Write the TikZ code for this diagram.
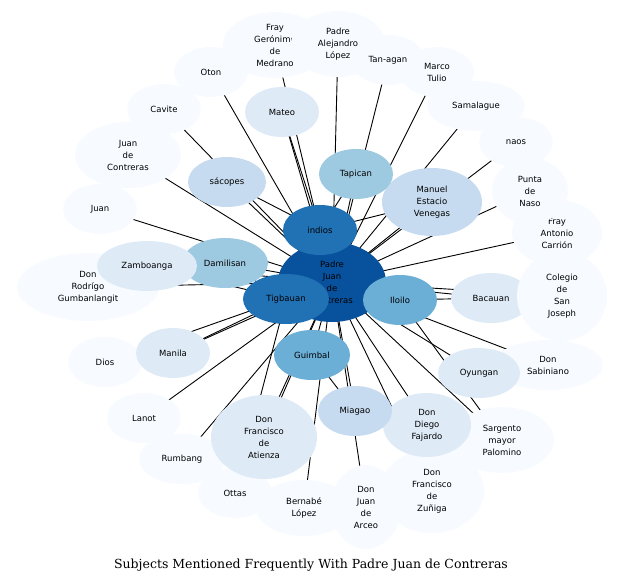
\documentclass[tikz,border=0pt]{standalone}
\usepackage{fontspec}
\setmainfont{DejaVu Sans}
\newfontfamily\titlefont{DejaVu Serif}
\usetikzlibrary{shapes.geometric}
\pgfdeclarelayer{bg}
\pgfsetlayers{bg,main}
\definecolor{c0}{HTML}{F7FBFF}
\definecolor{c1}{HTML}{DEEBF7}
\definecolor{c2}{HTML}{C6DBEF}
\definecolor{c3}{HTML}{9ECAE1}
\definecolor{c4}{HTML}{6BAED6}
\definecolor{c5}{HTML}{2171B5}
\definecolor{c6}{HTML}{08519C}
\tikzset{bub/.style={ellipse,inner sep=0pt,align=center,font=\fontsize{8.5}{12}\selectfont,text=black},
 edge/.style={draw=black,line width=0.9pt}}
\newcommand\bb[6]{\node[bub,fill=#4,minimum width=#3*2pt,minimum height=#5*2pt] (#6) at (#1,#2) {};\node[font=\fontsize{8.5}{12}\selectfont,align=center] at (#1,#2) {\strut};}
\begin{document}
\begin{tikzpicture}[x=1pt,y=-1pt]
\useasboundingbox (0,0) rectangle (624,586);
\def\N#1#2#3#4#5#6#7{\node[bub,fill=#6,minimum width=#3*2pt,minimum height=#4*2pt] (#5) at (#1,#2) {#7};}
% light outer
\N{211}{72}{37}{25}{oton}{c0}{Oton}
\N{275}{45}{52}{33}{fray}{c0}{Fray\\Gerónimo\\de\\Medrano}
\N{338}{44}{47}{33}{alej}{c0}{Padre\\Alejandro\\López}
\N{437}{72}{37}{25}{marco}{c0}{Marco\\Tulio}
\N{388}{60}{37}{25}{tan}{c0}{Tan-agan}
\N{476}{106}{49}{25}{sam}{c0}{Samalague}
\N{516}{142}{37}{25}{naos}{c0}{naos}
\N{557}{233}{45}{33}{carr}{c0}{Fray\\Antonio\\Carrión}
\N{530}{191}{38}{33}{punta}{c0}{Punta\\de\\Naso}
\N{491}{298}{40}{25}{baca}{c1}{Bacauan}
\N{562}{296}{45}{45}{cole}{c0}{Colegio\\de\\San\\Joseph}
\N{548}{365}{55}{25}{sabi}{c0}{Don\\Sabiniano}
\N{502}{440}{52}{33}{sarg}{c0}{Sargento\\mayor\\Palomino}
\N{366}{507}{35}{42}{arceo}{c0}{Don\\Juan\\de\\Arceo}
\N{432}{491}{52}{42}{zuni}{c0}{Don\\Francisco\\de\\Zuñiga}
\N{304}{508}{48}{28}{bern}{c0}{Bernabé\\López}
\N{235}{493}{37}{25}{ottas}{c0}{Ottas}
\N{182}{459}{43}{25}{rumb}{c0}{Rumbang}
\N{144}{418}{37}{25}{lanot}{c0}{Lanot}
\N{105}{362}{37}{25}{dios}{c0}{Dios}
\N{88}{287}{71}{34}{rodr}{c0}{Don\\Rodrígo\\Gumbanlangit}
\N{100}{209}{37}{25}{juan}{c0}{Juan}
\N{128}{155}{53}{33}{jdc}{c0}{Juan\\de\\Contreras}
\N{164}{109}{37}{25}{cav}{c0}{Cavite}
% medium
\N{282}{112}{37}{25}{mateo}{c1}{Mateo}
\N{225}{263}{43}{25}{dami}{c3}{Damilisan}
\N{147}{266}{50}{25}{zamb}{c1}{Zamboanga}
\N{173}{353}{37}{25}{manila}{c1}{Manila}
\N{479}{373}{41}{25}{oyun}{c1}{Oyungan}
\N{264}{437}{53}{42}{atie}{c1}{Don\\Francisco\\de\\Atienza}
\N{427}{425}{44}{32}{faja}{c1}{Don\\Diego\\Fajardo}
\N{432}{202}{50}{34}{manu}{c2}{Manuel\\Estacio\\Venegas}
\N{227}{182}{39}{25}{saco}{c2}{sácopes}
\N{355}{411}{37}{25}{miag}{c2}{Miagao}
\N{356}{174}{37}{25}{tapi}{c3}{Tapican}
\N{312}{355}{38}{25}{guim}{c4}{Guimbal}
\N{332}{282}{54}{40}{padre}{c6}{Padre\\Juan\\de\\Contreras}
\N{320}{230}{37}{25}{indios}{c5}{indios}
\N{286}{299}{43}{25}{tigb}{c5}{Tigbauan}
\N{400}{300}{37}{25}{iloi}{c4}{Iloilo}
\begin{pgfonlayer}{bg}
\foreach \t in {oton,fray,alej,marco,tan,sam,naos,carr,punta,baca,cole,sabi,sarg,arceo,zuni,bern,ottas,rumb,lanot,dios,rodr,juan,jdc,cav,mateo,dami,zamb,manila,oyun,atie,faja,manu,saco,miag,tapi,guim,indios,tigb,iloi}
  \draw[edge] (padre.center) -- (\t.center);
\draw[edge] (indios.center) -- (mateo.center);
\draw[edge] (indios.center) -- (saco.center);
\draw[edge] (indios.center) -- (tapi.center);
\draw[edge] (indios.center) -- (manu.center);
\draw[edge] (tigb.center) -- (dami.center);
\draw[edge] (tigb.center) -- (zamb.center);
\draw[edge] (tigb.center) -- (manila.center);
\draw[edge] (tigb.center) -- (ottas.center);
\draw[edge] (iloi.center) -- (sarg.center);
\draw[edge] (iloi.center) -- (baca.center);
\draw[edge] (guim.center) -- (miag.center);
\end{pgfonlayer}
\node[font=\titlefont\fontsize{12.5}{14}\selectfont] (title) at (311,565) {Subjects Mentioned Frequently With Padre Juan de Contreras};
\end{tikzpicture}
\end{document}
